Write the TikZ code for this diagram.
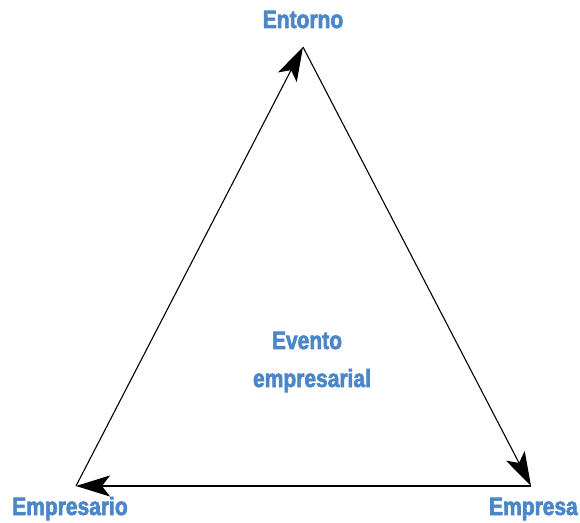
\documentclass[tikz,border=0pt]{standalone}
\usepackage{fontspec}
\setmainfont{Liberation Sans}
\newfontfamily\lblfont{Liberation Sans}[FakeBold=2.5,FakeStretch=0.84]
\usetikzlibrary{arrows.meta}
\definecolor{lblue}{RGB}{74,134,200}
\begin{document}
\begin{tikzpicture}[x=1pt,y=1pt,
  lbl/.style={text=lblue,font=\lblfont\fontsize{25}{28}\selectfont\bfseries,inner sep=0pt,align=center},
  conn/.style={draw=black,line width=1.1pt,-{Stealth[length=34pt,width=21pt,inset=8pt]}}]
\useasboundingbox (0,0) rectangle (580,522);
\coordinate (T) at (303,475);
\coordinate (L) at (76,36);
\coordinate (R) at (531,36);
\node[lbl,anchor=base] (tl) at (303,494) {Entorno};
\node[lbl,anchor=base west] (ll) at (12,7) {Empresario};
\node[lbl,anchor=base east] (rl) at (578,7) {Empresa};
\node[lbl,anchor=base] (c1) at (307,173) {Evento};
\node[lbl,anchor=base] (c2) at (312,135) {empresarial};
\draw[conn] (L) -- (T);
\draw[conn] (T) -- (R);
\draw[conn] (R) -- (L);
\end{tikzpicture}
\end{document}
